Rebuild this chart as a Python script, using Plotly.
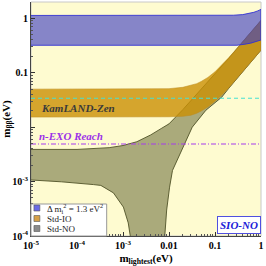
import plotly.graph_objects as go

# ---------------- data ----------------
# sterile band (Delta m^2_4 = 1.3 eV^2)
st_up_m = [1e-5, 0.1, 0.25, 0.4, 0.55, 0.7, 0.85, 1.0]
st_up_v = [1.13, 1.13, 1.14, 1.17, 1.22, 1.29, 1.37, 1.46]
st_lo_m = [1e-5, 0.3, 0.45, 0.6, 0.8, 1.0]
st_lo_v = [0.32, 0.32, 0.335, 0.35, 0.375, 0.40]

# inverted ordering band
io_up_m = [1e-5, 0.005, 0.01, 0.02, 0.03, 0.04, 0.05, 0.07, 0.1, 0.15, 0.2, 0.3, 0.5, 0.7, 1.0]
io_up_v = [0.050, 0.050, 0.051, 0.054, 0.058, 0.063, 0.069, 0.082, 0.104, 0.147, 0.19, 0.28, 0.46, 0.64, 0.92]
io_lo_m = [1e-5, 0.01, 0.02, 0.03, 0.04, 0.05, 0.07, 0.1, 0.15, 0.2, 0.3, 0.5, 0.7, 1.0]
io_lo_v = [0.0153, 0.0155, 0.0158, 0.0166, 0.018, 0.0198, 0.0235, 0.030, 0.041, 0.053, 0.079, 0.132, 0.185, 0.26]

# normal ordering region
no_up_m = [1e-5, 1e-4, 5e-4, 1e-3, 2e-3, 4e-3, 7e-3, 0.01, 0.02, 0.05, 0.1, 0.2, 0.5, 1.0]
no_up_v = [0.0039, 0.0039, 0.0042, 0.0046, 0.0054, 0.0072, 0.0096, 0.0115, 0.021, 0.049, 0.095, 0.185, 0.46, 0.91]
no_lo_right_m = [1.0, 0.7, 0.5, 0.3, 0.2, 0.14, 0.0635, 0.032, 0.0186, 0.0119, 0.0103, 0.0089, 0.0081, 0.0078]
no_lo_right_v = [0.26, 0.183, 0.13, 0.078, 0.052, 0.0356, 0.0205, 0.010, 0.0038, 0.0016, 0.00079, 0.0003, 0.0001, 0.00005]
no_lo_left_m = [0.00148, 0.00144, 0.0013, 0.00102, 0.00062, 0.00033, 0.00023, 4.6e-5, 1e-5]
no_lo_left_v = [0.00005, 0.0001, 0.000174, 0.00034, 0.00062, 0.00085, 0.00088, 0.00099, 0.00107]

kamland_limit = 0.034
nexo_reach = 0.0049
x_span = [1e-5, 1.0]

x_tickvals = [1e-5, 1e-4, 1e-3, 1e-2, 1e-1, 1]
x_ticktext = ["10<sup>-5</sup>", "10<sup>-4</sup>", "10<sup>-3</sup>", "0.01", "0.1", "1"]
y_tickvals = [1e-4, 1e-3, 1e-2, 1e-1, 1]
y_ticktext = ["10<sup>-4</sup>", "10<sup>-3</sup>", "", "0.1", "1"]

legend_labels = ["Δ m<sub>i</sub><sup>2</sup> = 1.3 eV<sup>2</sup>", "Std-IO", "Std-NO"]
legend_colors = ["#6a6ae6", "#d6a047", "#8a8a8a"]

SERIF = "Liberation Serif"
BG = "rgb(254,251,208)"

fig = go.Figure()

# NO region
fig.add_trace(go.Scatter(
    x=no_up_m + no_lo_right_m + no_lo_left_m,
    y=no_up_v + no_lo_right_v + no_lo_left_v,
    fill="toself", mode="lines",
    fillcolor="rgba(101,104,52,0.55)",
    line=dict(color="rgb(80,82,40)", width=0.9),
    hoverinfo="skip", showlegend=False))

# IO band
fig.add_trace(go.Scatter(
    x=io_up_m + io_lo_m[::-1],
    y=io_up_v + io_lo_v[::-1],
    fill="toself", mode="lines",
    fillcolor="rgba(202,144,4,0.8)",
    line=dict(color="rgba(190,140,30,0.9)", width=0.6),
    hoverinfo="skip", showlegend=False))

# sterile band
fig.add_trace(go.Scatter(
    x=st_up_m + st_lo_m[::-1],
    y=st_up_v + st_lo_v[::-1],
    fill="toself", mode="lines",
    fillcolor="rgba(60,60,195,0.62)",
    line=dict(color="rgb(50,50,210)", width=0.9),
    hoverinfo="skip", showlegend=False))

# KamLAND-Zen limit
fig.add_trace(go.Scatter(
    x=x_span, y=[kamland_limit, kamland_limit], mode="lines",
    line=dict(color="rgb(70,225,210)", width=1, dash="4px,3px"),
    hoverinfo="skip", showlegend=False))

# n-EXO reach
fig.add_trace(go.Scatter(
    x=x_span, y=[nexo_reach, nexo_reach], mode="lines",
    line=dict(color="rgb(165,60,235)", width=1.2, dash="5px,2px,1px,2px"),
    hoverinfo="skip", showlegend=False))

annotations = [
    dict(x=-4.83, y=-1.65, xref="x", yref="y", xanchor="left", yanchor="middle",
         text="<b><i>KamLAND-Zen</i></b>", showarrow=False,
         font=dict(family=SERIF, size=11, color="#3a3a3a")),
    dict(x=-4.87, y=-2.17, xref="x", yref="y", xanchor="left", yanchor="middle",
         text="<b><i>n-EXO Reach</i></b>", showarrow=False,
         font=dict(family=SERIF, size=11, color="#9b30e8")),
    dict(x=-0.47, y=-3.79, xref="x", yref="y", xanchor="center", yanchor="middle",
         text="<b><i>SIO-NO</i></b>", showarrow=False,
         font=dict(family=SERIF, size=11, color="#2020d8"),
         bgcolor="white", bordercolor="#5050e0", borderwidth=1, borderpad=2),
]

shapes = []
# custom legend box
W, H = 234.0, 234.0
def px(xp):
    return (xp - 29) / W
def py(yp):
    return (236 - yp) / H
shapes.append(dict(type="rect", xref="paper", yref="paper",
                   x0=px(29), x1=px(106), y0=py(236), y1=py(204),
                   fillcolor="white", line=dict(color="#999", width=1), layer="above"))
rows = [208, 218.5, 228.5]
for lab, col, ry in zip(legend_labels, legend_colors, rows):
    shapes.append(dict(type="rect", xref="paper", yref="paper",
                       x0=px(32), x1=px(38), y0=py(ry + 3), y1=py(ry - 3),
                       fillcolor=col, line=dict(color="#555", width=0.6), layer="above"))
    annotations.append(dict(x=px(43), y=py(ry), xref="paper", yref="paper",
                            xanchor="left", yanchor="middle", text=lab, showarrow=False,
                            font=dict(family=SERIF, size=9, color="#222")))

fig.update_layout(
    width=266, height=266,
    margin=dict(l=29, r=3, t=2, b=30),
    paper_bgcolor="white", plot_bgcolor=BG,
    annotations=annotations, shapes=shapes,
    showlegend=False,
    xaxis=dict(type="log", range=[-5, 0], tickmode="array",
               tickvals=x_tickvals, ticktext=["<b>%s</b>" % t for t in x_ticktext],
               ticks="inside", ticklen=4, tickcolor="#333",
               tickfont=dict(family=SERIF, size=10, color="black"),
               showgrid=False, zeroline=False,
               showline=True, linecolor="#444", linewidth=1, mirror=False,
               minor=dict(ticks="inside", ticklen=2, tickcolor="#555",
                          tickvals=[k * 10 ** e for e in range(-5, 0) for k in range(2, 10)]),
               title=dict(text="<b>m<sub>lightest</sub>(eV)</b>", standoff=5,
                          font=dict(family=SERIF, size=11, color="black"))),
    yaxis=dict(type="log", range=[-4, 0.3], tickmode="array",
               tickvals=y_tickvals, ticktext=["<b>%s</b>" % t if t else "" for t in y_ticktext],
               ticks="inside", ticklen=4, tickcolor="#333",
               tickfont=dict(family=SERIF, size=10, color="black"),
               showgrid=False, zeroline=False,
               showline=True, linecolor="#444", linewidth=1, mirror=False,
               minor=dict(ticks="inside", ticklen=2, tickcolor="#555",
                          tickvals=[k * 10 ** e for e in range(-4, 1) for k in range(2, 10)]),
               title=dict(text="<b>m<sub>ββ</sub>(eV)</b>", standoff=2,
                          font=dict(family=SERIF, size=11, color="black"))),
)
# light frame on top/right
fig.add_shape(type="rect", xref="paper", yref="paper", x0=0, x1=1, y0=0, y1=1,
              line=dict(color="#c8c8c8", width=1), layer="below")

fig.write_html("out.html", config={"displayModeBar": False},
               post_script="document.body.style.margin='0';document.body.style.padding='0';")
